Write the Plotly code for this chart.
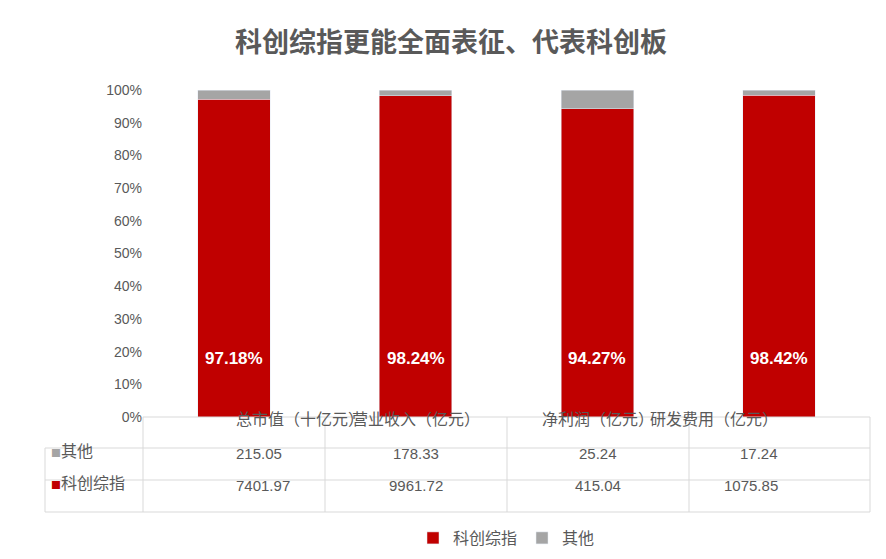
import plotly.graph_objects as go

categories = ["总市值（十亿元）", "营业收入（亿元）", "净利润（亿元）", "研发费用（亿元）"]
kc_values = [7401.97, 9961.72, 415.04, 1075.85]
other_values = [215.05, 178.33, 25.24, 17.24]
kc_name = "科创综指"
other_name = "其他"

kc_pct = [a / (a + b) * 100 for a, b in zip(kc_values, other_values)]
other_pct = [100 - p for p in kc_pct]

RED = "#c00000"
GRAY = "#a5a5a5"
TXT = "#595959"
LINE = "#d9d9d9"
FONT = "Noto Sans CJK SC"

fig = go.Figure()
fig.add_bar(x=categories, y=kc_pct, name=kc_name, marker_color=RED, width=0.4, hoverinfo="skip")
fig.add_bar(x=categories, y=other_pct, name=other_name, marker_color=GRAY, width=0.4, hoverinfo="skip")

L, R, T, B = 135, 862, 82, 409
PW, PH = R - L, B - T
def px(x): return (x - L) / PW
def py(y): return (B - y) / PH

ann = []
for c, p in zip(categories, kc_pct):
    ann.append(dict(x=c, y=18, xref="x", yref="y", text=f"<b>{p:.2f}%</b>", showarrow=False,
                    font=dict(color="white", size=17, family="Liberation Sans")))

bounds = [135, 317, 499, 681, 862]
shapes = []
for xb in bounds:
    shapes.append(dict(type="line", xref="paper", yref="paper", x0=px(xb), x1=px(xb),
                       y0=py(409), y1=py(504), line=dict(color=LINE, width=1)))
shapes.append(dict(type="line", xref="paper", yref="paper", x0=px(37), x1=px(37),
                   y0=py(440), y1=py(504), line=dict(color=LINE, width=1)))
for yy in [440, 472, 504]:
    shapes.append(dict(type="line", xref="paper", yref="paper", x0=px(37), x1=px(862),
                       y0=py(yy), y1=py(yy), line=dict(color=LINE, width=1)))
shapes.append(dict(type="line", xref="paper", yref="paper", x0=0, x1=1,
                   y0=0, y1=0, line=dict(color=LINE, width=1)))

centers = [(bounds[i] + bounds[i + 1]) / 2 for i in range(4)]
for i, c in enumerate(categories):
    ann.append(dict(x=px(centers[i]), y=py(424), xref="paper", yref="paper", text=c, showarrow=False,
                    font=dict(color=TXT, size=16, family=FONT)))
    ann.append(dict(x=px(centers[i]), y=py(456), xref="paper", yref="paper", text=f"{other_values[i]:.2f}",
                    showarrow=False, font=dict(color=TXT, size=15, family="Liberation Sans")))
    ann.append(dict(x=px(centers[i]), y=py(488), xref="paper", yref="paper", text=f"{kc_values[i]:.2f}",
                    showarrow=False, font=dict(color=TXT, size=15, family="Liberation Sans")))
for yy, name, col in [(456, other_name, GRAY), (488, kc_name, RED)]:
    ann.append(dict(x=px(41), y=py(yy), xref="paper", yref="paper", xanchor="left",
                    text=f"<span style='color:{col};font-size:10px'>■</span>{name}", showarrow=False,
                    font=dict(color=TXT, size=16, family=FONT)))

fig.update_layout(
    width=886, height=559, barmode="stack", plot_bgcolor="white", paper_bgcolor="white",
    margin=dict(l=L, r=886 - R, t=T, b=559 - B, autoexpand=False),
    title=dict(text="<b>科创综指更能全面表征、代表科创板</b>", x=0.5, xanchor="center",
               y=(559 - 35) / 559, yanchor="middle",
               font=dict(size=27, color=TXT, family=FONT)),
    xaxis=dict(showticklabels=False, showline=False, range=[-0.5, 3.5]),
    yaxis=dict(range=[0, 100], dtick=10, ticksuffix="%", showgrid=False, showline=False,
               tickfont=dict(size=14, color=TXT, family="Liberation Sans"), ticks=""),
    legend=dict(orientation="h", x=0.5, xanchor="center", yref="container",
                y=(559 - 530) / 559, yanchor="middle", traceorder="normal",
                font=dict(size=16, color=TXT, family=FONT), itemwidth=30),
    annotations=ann, shapes=shapes, showlegend=True,
)
fig.write_html("out.html")
